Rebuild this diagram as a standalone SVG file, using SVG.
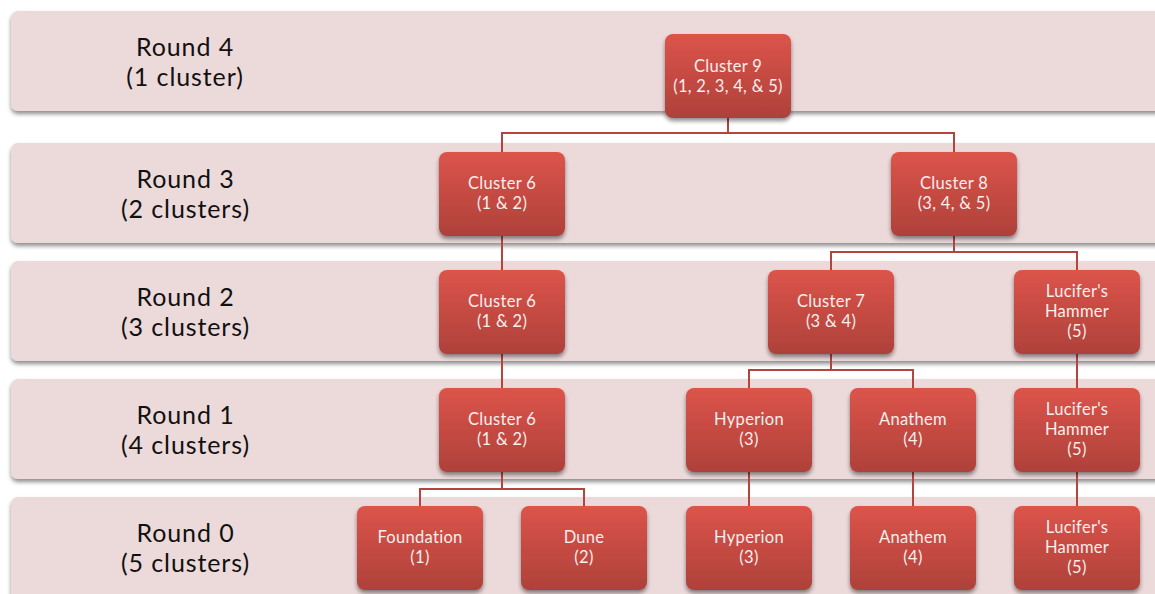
<svg xmlns="http://www.w3.org/2000/svg" width="1155" height="594" viewBox="0 0 1155 594">
<defs>
<linearGradient id="ng" x1="0" y1="0" x2="0" y2="1">
<stop offset="0" stop-color="#dc544a"/>
<stop offset="1" stop-color="#ae413a"/>
</linearGradient>
<filter id="sh" x="-10%" y="-10%" width="120%" height="130%">
<feGaussianBlur in="SourceAlpha" stdDeviation="2"/>
<feOffset dx="0" dy="3" result="b"/>
<feComponentTransfer><feFuncA type="linear" slope="0.45"/></feComponentTransfer>
<feMerge><feMergeNode/><feMergeNode in="SourceGraphic"/></feMerge>
</filter>
</defs>
<style>
.band{fill:#ecd9da;filter:url(#sh)}
.bl{font-family:Lato,"Liberation Sans",sans-serif;font-size:25px;letter-spacing:0.9px;fill:#111;text-anchor:middle}
.node rect{fill:url(#ng);filter:url(#sh)}
.nt{font-family:Lato,"Liberation Sans",sans-serif;font-size:16.5px;letter-spacing:0.3px;fill:#fbeeee;text-anchor:middle}
.c{stroke:#b3443e;stroke-width:2;fill:none}
</style>
<rect width="1155" height="594" fill="#ffffff"/>
<g id="bands">
<rect class="band" x="11" y="11" width="1160" height="100" rx="7"/>
<rect class="band" x="11" y="143" width="1160" height="100" rx="7"/>
<rect class="band" x="11" y="261" width="1160" height="100" rx="7"/>
<rect class="band" x="11" y="379" width="1160" height="100" rx="7"/>
<rect class="band" x="11" y="497" width="1160" height="110" rx="7"/>
<text class="bl" x="185" y="56">Round 4</text>
<text class="bl" x="185" y="86">(1 cluster)</text>
<text class="bl" x="185.5" y="188">Round 3</text>
<text class="bl" x="185.5" y="218">(2 clusters)</text>
<text class="bl" x="185.5" y="306">Round 2</text>
<text class="bl" x="185.5" y="336">(3 clusters)</text>
<text class="bl" x="185.5" y="424">Round 1</text>
<text class="bl" x="185.5" y="454">(4 clusters)</text>
<text class="bl" x="185.5" y="542">Round 0</text>
<text class="bl" x="185.5" y="572">(5 clusters)</text>
</g>
<g id="connectors">
<path class="c" d="M728 116V133M502 152V133H954V152"/>
<path class="c" d="M502 236V270"/>
<path class="c" d="M954 236V252M831 270V252H1077V270"/>
<path class="c" d="M502 354V388"/>
<path class="c" d="M831 354V370M749 388V370H913V388"/>
<path class="c" d="M1077 354V388"/>
<path class="c" d="M502 472V489M420 506V489H584V506"/>
<path class="c" d="M749 472V506"/>
<path class="c" d="M913 472V506"/>
<path class="c" d="M1077 472V506"/>
</g>
<g id="n9" class="node"><rect x="665" y="34" width="126" height="84" rx="8"/><text class="nt" x="728" y="72">Cluster 9</text><text class="nt" x="728" y="92">(1, 2, 3, 4, &amp; 5)</text></g>
<g id="n6r3" class="node"><rect x="439" y="152" width="126" height="84" rx="8"/><text class="nt" x="502" y="189">Cluster 6</text><text class="nt" x="502" y="209">(1 &amp; 2)</text></g>
<g id="n8" class="node"><rect x="891" y="152" width="126" height="84" rx="8"/><text class="nt" x="954" y="189">Cluster 8</text><text class="nt" x="954" y="209">(3, 4, &amp; 5)</text></g>
<g id="n6r2" class="node"><rect x="439" y="270" width="126" height="84" rx="8"/><text class="nt" x="502" y="307">Cluster 6</text><text class="nt" x="502" y="327">(1 &amp; 2)</text></g>
<g id="n7" class="node"><rect x="768" y="270" width="126" height="84" rx="8"/><text class="nt" x="831" y="307">Cluster 7</text><text class="nt" x="831" y="327">(3 &amp; 4)</text></g>
<g id="n5r2" class="node"><rect x="1014" y="270" width="126" height="84" rx="8"/><text class="nt" x="1077" y="297">Lucifer's</text><text class="nt" x="1077" y="317">Hammer</text><text class="nt" x="1077" y="337">(5)</text></g>
<g id="n6r1" class="node"><rect x="439" y="388" width="126" height="84" rx="8"/><text class="nt" x="502" y="425">Cluster 6</text><text class="nt" x="502" y="445">(1 &amp; 2)</text></g>
<g id="n3r1" class="node"><rect x="686" y="388" width="126" height="84" rx="8"/><text class="nt" x="749" y="425">Hyperion</text><text class="nt" x="749" y="445">(3)</text></g>
<g id="n4r1" class="node"><rect x="850" y="388" width="126" height="84" rx="8"/><text class="nt" x="913" y="425">Anathem</text><text class="nt" x="913" y="445">(4)</text></g>
<g id="n5r1" class="node"><rect x="1014" y="388" width="126" height="84" rx="8"/><text class="nt" x="1077" y="415">Lucifer's</text><text class="nt" x="1077" y="435">Hammer</text><text class="nt" x="1077" y="455">(5)</text></g>
<g id="n1" class="node"><rect x="357" y="506" width="126" height="84" rx="8"/><text class="nt" x="420" y="543">Foundation</text><text class="nt" x="420" y="563">(1)</text></g>
<g id="n2" class="node"><rect x="521" y="506" width="126" height="84" rx="8"/><text class="nt" x="584" y="543">Dune</text><text class="nt" x="584" y="563">(2)</text></g>
<g id="n3" class="node"><rect x="686" y="506" width="126" height="84" rx="8"/><text class="nt" x="749" y="543">Hyperion</text><text class="nt" x="749" y="563">(3)</text></g>
<g id="n4" class="node"><rect x="850" y="506" width="126" height="84" rx="8"/><text class="nt" x="913" y="543">Anathem</text><text class="nt" x="913" y="563">(4)</text></g>
<g id="n5" class="node"><rect x="1014" y="506" width="126" height="84" rx="8"/><text class="nt" x="1077" y="533">Lucifer's</text><text class="nt" x="1077" y="553">Hammer</text><text class="nt" x="1077" y="573">(5)</text></g>
</svg>
